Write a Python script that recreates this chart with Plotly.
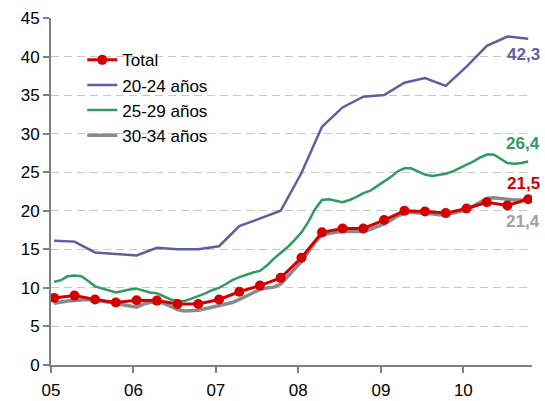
import pandas as pd
import plotly.graph_objects as go

# ---- data -------------------------------------------------------------
year_labels = ["05", "06", "07", "08", "09", "10"]
n_months = 70  # Jan 2005 .. Oct 2010

total_q = [8.7, 9.0, 8.5, 8.1, 8.4, 8.35, 7.9, 7.9, 8.5, 9.5, 10.3, 11.3,
           13.9, 17.2, 17.7, 17.7, 18.8, 20.0, 19.9, 19.7, 20.3, 21.1, 20.7, 21.5]

age_20_24_q = [16.1, 16.0, 14.6, 14.4, 14.2, 15.2, 15.0, 15.0, 15.4, 18.0, 19.0, 20.0,
               24.9, 30.9, 33.4, 34.8, 35.0, 36.6, 37.2, 36.2, 38.7, 41.4, 42.6, 42.3]

age_25_29_m = [10.8, 11.0, 11.5, 11.6, 11.5, 10.9, 10.2, 9.9, 9.6, 9.4,
               9.6, 9.8, 9.9, 9.6, 9.4, 9.3, 8.9, 8.5, 8.3, 8.3,
               8.6, 8.9, 9.3, 9.7, 10.0, 10.5, 11.0, 11.4, 11.7, 12.0,
               12.2, 12.9, 13.8, 14.5, 15.3, 16.2, 17.2, 18.6, 20.2, 21.4,
               21.5, 21.3, 21.1, 21.4, 21.8, 22.3, 22.6, 23.2, 23.8, 24.4,
               25.1, 25.5, 25.5, 25.1, 24.7, 24.5, 24.7, 24.8, 25.1, 25.5,
               26.0, 26.4, 26.9, 27.3, 27.3, 26.7, 26.2, 26.1, 26.2, 26.4]

age_30_34_m = [8.0, 8.2, 8.3, 8.35, 8.4, 8.5, 8.4, 8.3, 8.1, 8.0,
               7.8, 7.6, 7.5, 7.9, 8.1, 8.2, 8.0, 7.6, 7.2, 7.0,
               7.05, 7.1, 7.3, 7.5, 7.7, 7.9, 8.1, 8.5, 8.9, 9.4,
               9.8, 10.0, 10.1, 10.5, 11.5, 12.5, 13.4, 14.7, 15.9, 16.9,
               17.1, 17.2, 17.3, 17.3, 17.3, 17.3, 17.6, 17.9, 18.3, 18.8,
               19.3, 19.7, 19.8, 19.7, 19.7, 19.6, 19.5, 19.5, 19.7, 19.9,
               20.1, 20.6, 21.1, 21.6, 21.7, 21.6, 21.4, 21.4, 21.4, 21.4]

# ---- dates -------------------------------------------------------------
months = pd.date_range("2005-01-01", periods=n_months, freq="MS") + pd.Timedelta(days=14)
quarters = months[::3]

C_RED = "#D40000"
C_PUR = "#5F5F9E"
C_GRN = "#2F9B62"
C_GRY = "#8A8A8A"

FONT = "Liberation Sans, Arial, sans-serif"

fig = go.Figure()
fig.add_trace(go.Scatter(x=months, y=age_30_34_m, mode="lines", name="30-34 años",
                         line=dict(color=C_GRY, width=3.5), legendrank=4))
fig.add_trace(go.Scatter(x=months, y=age_25_29_m, mode="lines", name="25-29 años",
                         line=dict(color=C_GRN, width=2.5), legendrank=3))
fig.add_trace(go.Scatter(x=quarters, y=age_20_24_q, mode="lines", name="20-24 años",
                         line=dict(color=C_PUR, width=2.5), legendrank=2))
fig.add_trace(go.Scatter(x=quarters, y=total_q, mode="lines+markers", name="Total",
                         line=dict(color=C_RED, width=3),
                         marker=dict(color=C_RED, size=10), legendrank=1))

def fmt(v):
    return f"{v:.1f}".replace(".", ",")

end_labels = [
    (age_20_24_q[-1], C_PUR, -16),
    (age_25_29_m[-1], C_GRN, 18),
    (total_q[-1], C_RED, 16),
    (age_30_34_m[-1], "#A0A0A0", -22),
]
for v, c, ys in end_labels:
    fig.add_annotation(xref="paper", x=1, yref="y", y=v, text=f"<b>{fmt(v)}</b>",
                       showarrow=False, xanchor="right", yanchor="middle",
                       xshift=10, yshift=ys,
                       font=dict(family=FONT, size=17, color=c))

fig.update_layout(
    template="none",
    width=545, height=401,
    margin=dict(l=51, r=13, t=18, b=36, autoexpand=False),
    paper_bgcolor="white", plot_bgcolor="white",
    font=dict(family=FONT, size=17, color="black"),
    showlegend=True,
    legend=dict(x=0.065, y=0.93, xanchor="left", yanchor="top",
                bgcolor="rgba(0,0,0,0)", font=dict(size=17),
                itemwidth=30, tracegroupgap=0, borderwidth=0),
)
fig.update_xaxes(
    automargin=False,
    range=["2005-01-01", "2010-11-01"],
    tickmode="array",
    tickvals=[f"20{y}-01-01" for y in year_labels],
    ticktext=year_labels,
    showgrid=False, showline=True, linecolor="#808080", linewidth=2,
    ticks="outside", ticklen=6, tickwidth=1.5, tickcolor="#808080",
    zeroline=False, ticklabelstandoff=3,
)
fig.update_yaxes(
    automargin=False,
    range=[0, 45], dtick=5, tick0=0, tickmode="linear",
    showgrid=True, gridcolor="#C8C8C8", gridwidth=1, griddash="8px,5px",
    showline=True, linecolor="#808080", linewidth=2,
    ticks="outside", ticklen=6, tickwidth=1.5, tickcolor="#808080",
    zeroline=False,
)

fig.write_html("out.html", config={"displayModeBar": False},
               post_script="document.body.style.margin='0px';")
